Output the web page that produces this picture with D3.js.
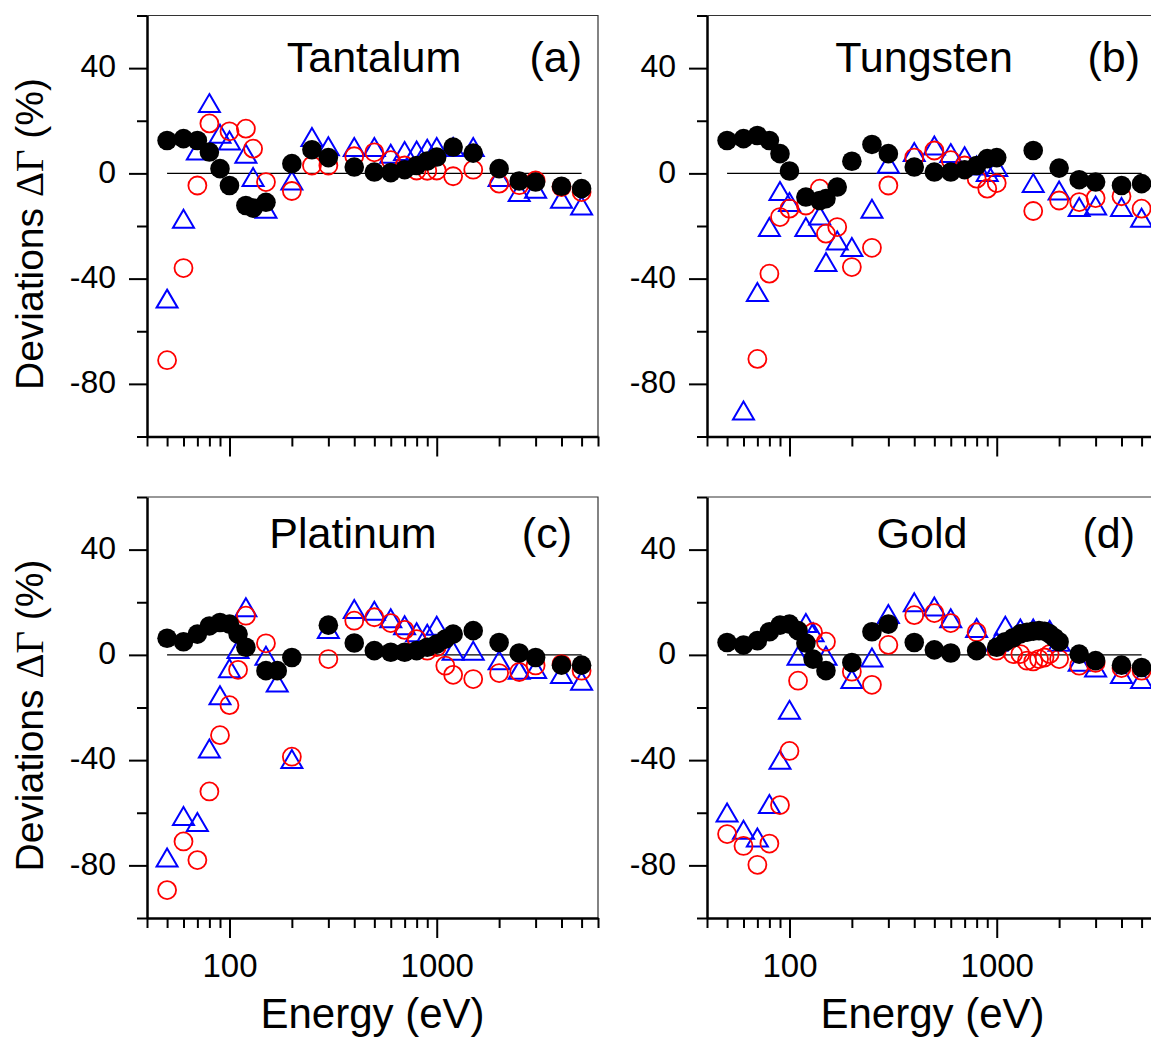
<!DOCTYPE html>
<html>
<head>
<meta charset="utf-8">
<script src="https://cdn.jsdelivr.net/npm/d3@7"></script>
<style>
  body { margin: 0; background: #fff; }
  svg { display: block; font-family: "Liberation Sans", Arial, sans-serif; }
</style>
</head>
<body>
<svg width="1151" height="1041"></svg>
<script>
// ---- data: [energy (eV), deviation (%)] ----
// filled black circles, open red circles, open blue triangles

const taFilled = [[50,12.5],[60,13.2],[70,12.5],[80,8.1],[90,1.8],[100,-4.6],[120,-12.2],[130,-13.2],[150,-11],[200,3.7],[250,9],[300,6],[400,2.4],[500,0.5],[600,0.3],[700,1.4],[800,3],[900,4.7],[1000,6.2],[1200,10],[1500,7.7],[2000,1.8],[2500,-2.9],[3000,-3.3],[4000,-4.9],[5000,-5.8]];
const taOpen = [[50,-71],[60,-36],[70,-4.6],[80,19],[100,16],[120,17],[130,9.4],[150,-3.3],[200,-6.7],[250,3],[300,3],[400,6.5],[500,8],[600,5],[700,3],[800,1.1],[900,1],[1000,1.1],[1200,-1.1],[1500,1.4],[2000,-3.9],[2500,-4.5],[3000,-2.7],[4000,-5.2],[5000,-7.1]];
const taTri = [[50,-47.6],[60,-17.2],[70,8.7],[80,26.7],[90,15.1],[100,12.5],[120,7.5],[130,-1.4],[150,-13.4],[200,-2.7],[250,13.8],[300,10.3],[400,10],[500,10],[600,7.5],[700,8.5],[800,8.7],[900,9.4],[1000,10],[1200,10],[1500,10],[2000,-1.4],[2500,-7.1],[3000,-5.8],[4000,-9.6],[5000,-12.2]];

const wFilled = [[50,12.5],[60,13.2],[70,14.4],[80,12.5],[90,7.5],[100,0.9],[120,-9],[140,-10.3],[150,-9.6],[170,-5.2],[200,4.6],[250,11],[300,7.5],[400,2.4],[500,0.5],[600,0.5],[700,1.4],[800,3],[900,5.6],[1000,6],[1500,8.7],[2000,2],[2500,-2.4],[3000,-3.3],[4000,-4.6],[5000,-3.9]];
const wOpen = [[70,-70.5],[80,-38.1],[90,-16.6],[100,-13.4],[120,-12.2],[140,-5.8],[150,-22.9],[170,-20.4],[200,-35.6],[250,-28.3],[300,-4.6],[400,6],[500,8.7],[600,5],[700,3],[800,-2],[900,-5.8],[1000,-3.7],[1500,-14.3],[2000,-10.3],[2500,-10.9],[3000,-9.4],[4000,-8.7],[5000,-13.4]];
const wTri = [[60,-90.1],[70,-45.1],[80,-20.4],[90,-6.7],[100,-10.9],[120,-20.4],[140,-16],[150,-33.7],[170,-25.5],[200,-28],[250,-13.4],[300,3.7],[400,8.1],[500,10.6],[600,7.7],[700,6.5],[800,3],[900,0.5],[1000,2.4],[1500,-3.7],[2000,-6.5],[2500,-12.8],[3000,-12.2],[4000,-12.8],[5000,-16.9]];

const ptFilled = [[50,6.3],[60,5],[70,7.9],[80,11],[90,12.3],[100,11.7],[110,7.9],[120,2.9],[150,-6],[170,-6],[200,-1],[300,11.3],[400,4.5],[500,1.6],[600,1],[700,1],[800,1.6],[900,2.9],[1000,4.1],[1100,6],[1200,7.9],[1500,9.2],[2000,4.7],[2500,0.7],[3000,-1],[4000,-3.9],[5000,-3.9]];
const ptOpen = [[50,-89.4],[60,-70.9],[70,-78],[80,-51.9],[90,-30.5],[100,-19.1],[110,-5.7],[120,14.9],[150,4.4],[200,-38.7],[300,-1.6],[400,13],[500,14.3],[600,12.1],[700,9.5],[800,6],[900,1.6],[1000,3],[1100,-4.1],[1200,-7.6],[1500,-9.2],[2000,-6.9],[2500,-6.5],[3000,-4],[4000,-3.5],[5000,-6]];
const ptTri = [[50,-77],[60,-61.2],[70,-63.5],[80,-35.6],[90,-15.3],[100,-5.1],[110,2.2],[120,18.1],[150,-0.3],[170,-10.5],[200,-39.6],[300,9.8],[400,17.4],[500,16.8],[600,13.9],[700,11.3],[800,8.6],[900,8],[1000,11.1],[1200,1.6],[1500,1.6],[2000,-2],[2500,-5.7],[3000,-5.4],[4000,-7.3],[5000,-9.8]];

const auFilled = [[50,4.7],[60,3.7],[70,5.4],[80,8.8],[90,11.3],[100,11.7],[110,9.2],[120,4.5],[130,-1.6],[150,-6],[200,-2.9],[250,8.8],[300,11.7],[400,4.7],[500,1.9],[600,0.7],[800,1.6],[1000,2.9],[1100,5],[1200,6.5],[1300,8],[1400,8.6],[1500,9],[1600,9.2],[1700,9],[1800,8],[1900,6.5],[2000,5],[2500,0.3],[3000,-2.2],[4000,-3.9],[5000,-4.8]];
const auOpen = [[50,-68.1],[60,-72.6],[70,-79.8],[80,-71.7],[90,-57.1],[100,-36.5],[110,-9.8],[130,8.6],[150,5],[200,-6.4],[250,-11.4],[300,3.8],[400,15.1],[500,15.9],[600,12.1],[800,8.6],[1000,1.6],[1200,0.3],[1300,0.3],[1400,-2.2],[1500,-2.5],[1600,-1.6],[1700,-1],[1800,0.3],[2000,-1.6],[2500,-4.1],[3000,-3],[4000,-5],[5000,-6]];
const auTri = [[50,-59.9],[60,-66.5],[70,-69.4],[80,-56.7],[90,-39.9],[100,-20.9],[110,-0.3],[120,12.1],[130,8.6],[150,-0.3],[200,-9.2],[250,-1],[300,15.5],[400,20],[500,18.4],[600,13.9],[800,10.2],[1000,5],[1100,11.1],[1300,10],[1500,10],[1800,9.5],[2000,5],[2500,-2.6],[3000,-4.8],[4000,-7.3],[5000,-9.2]];

const xTicks = [40,50,60,70,80,90,100,200,300,400,500,600,700,800,900,1000,2000,3000,4000,5000,6000];
const xLabels = [100, 1000];
const yTicks = [-100,-80,-60,-40,-20,0,20,40,60];
const yLabels = [-80, -40, 0, 40];

const svg = d3.select("svg");
const W = 451, H = 421;

const panels = [
  {name: "Tantalum", tag: "(a)", filled: taFilled, open: taOpen, tri: taTri,
   left: 147, top: 15.5, titleX: 227, titleY: 56, tagX: 435, bottomRow: false},
  {name: "Tungsten", tag: "(b)", filled: wFilled, open: wOpen, tri: wTri,
   left: 707, top: 15.5, titleX: 217, titleY: 56, tagX: 433, bottomRow: false},
  {name: "Platinum", tag: "(c)", filled: ptFilled, open: ptOpen, tri: ptTri,
   left: 147, top: 497, titleX: 206, titleY: 51, tagX: 425, bottomRow: true},
  {name: "Gold", tag: "(d)", filled: auFilled, open: auOpen, tri: auTri,
   left: 707, top: 497, titleX: 215, titleY: 51, tagX: 428, bottomRow: true}
];

// open triangle centred on its bounding box
const triPath = "M0,-9L10.5,9L-10.5,9Z";

drawPanel = p => {
  const g = svg.append("g").attr("transform", `translate(${p.left},${p.top})`);

  const x = d3.scaleLog().domain([40, 6000]).range([0, W]);
  const y = d3.scaleLinear().domain([-100, 60]).range([H, 0]);

  // thin top and right frame
  g.append("path")
    .attr("d", `M0,0H${W}V${H}`)
    .attr("fill", "none")
    .attr("stroke", "#333")
    .attr("stroke-width", 1.2);

  // zero reference line
  g.append("line")
    .attr("x1", x(50)).attr("x2", x(5000))
    .attr("y1", y(0)).attr("y2", y(0))
    .attr("stroke", "#000").attr("stroke-width", 1.2);

  // left axis
  g.append("g")
    .call(d3.axisLeft(y).tickValues(yTicks).tickSize(18).tickSizeOuter(0).tickPadding(13)
      .tickFormat(d => yLabels.includes(d) ? String(d) : ""))
    .call(a => a.select(".domain").attr("stroke-width", 2.5))
    .call(a => a.selectAll(".tick line").attr("stroke-width", 2)
      .attr("x2", d => yLabels.includes(d) ? -18 : -10))
    .call(a => a.selectAll(".tick text").attr("font-size", 32).attr("dy", "0.27em")
      .attr("font-family", "'Liberation Sans', Arial, sans-serif").attr("fill", "#000"));

  // bottom axis
  g.append("g")
    .attr("transform", `translate(0,${H})`)
    .call(d3.axisBottom(x).tickValues(xTicks).tickSize(20).tickSizeOuter(0).tickPadding(16)
      .tickFormat(d => (p.bottomRow && xLabels.includes(d)) ? String(d) : ""))
    .call(a => a.select(".domain").attr("stroke-width", 2.5))
    .call(a => a.selectAll(".tick line").attr("stroke-width", 2)
      .attr("y2", d => xLabels.includes(d) ? 20 : 10))
    .call(a => a.selectAll(".tick text").attr("font-size", 33)
      .attr("font-family", "'Liberation Sans', Arial, sans-serif").attr("fill", "#000"));

  // markers
  g.selectAll(".tri").data(p.tri).join("path")
    .attr("class", "tri")
    .attr("d", triPath)
    .attr("transform", d => `translate(${x(d[0])},${y(d[1])})`)
    .attr("fill", "none").attr("stroke", "#0000ff").attr("stroke-width", 2);

  g.selectAll(".open").data(p.open).join("circle")
    .attr("class", "open")
    .attr("cx", d => x(d[0])).attr("cy", d => y(d[1])).attr("r", 9)
    .attr("fill", "none").attr("stroke", "#ff0000").attr("stroke-width", 1.8);

  g.selectAll(".filled").data(p.filled).join("circle")
    .attr("class", "filled")
    .attr("cx", d => x(d[0])).attr("cy", d => y(d[1])).attr("r", 9.8)
    .attr("fill", "#000");

  // title and panel tag
  g.append("text")
    .attr("x", p.titleX).attr("y", p.titleY)
    .attr("text-anchor", "middle").attr("font-size", 43)
    .text(p.name);

  g.append("text")
    .attr("x", p.tagX).attr("y", p.titleY)
    .attr("text-anchor", "end").attr("font-size", 43)
    .text(p.tag);

  // y title, left column only
  if (p.left < 400) {
    const t = svg.append("text")
      .attr("transform", `translate(43,${p.top + H / 2 + 8}) rotate(-90)`)
      .attr("text-anchor", "middle")
      .attr("font-size", 39);
    t.append("tspan").text("Deviations ");
    t.append("tspan").attr("font-family", "'Liberation Serif', 'Times New Roman', serif").text("ΔΓ");
    t.append("tspan").text(" (%)");
  }

  // x title, bottom row
  if (p.bottomRow) {
    g.append("text")
      .attr("x", W / 2).attr("y", H + 110)
      .attr("text-anchor", "middle").attr("font-size", 42)
      .text("Energy (eV)");
  }
};

panels.forEach(drawPanel);
</script>
</body>
</html>
